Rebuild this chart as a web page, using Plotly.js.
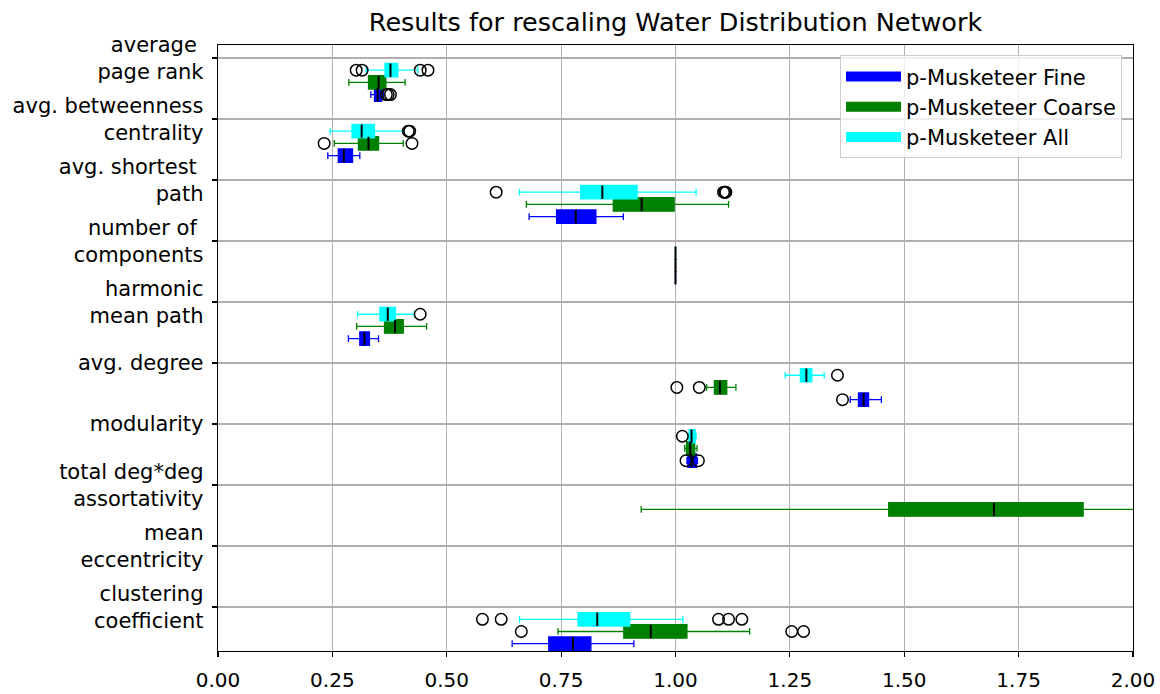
<!DOCTYPE html>
<html><head><meta charset="utf-8">
<script src="https://cdn.plot.ly/plotly-3.0.1.min.js"></script>
<style>html,body{margin:0;padding:0;background:#fff}#chart{width:1160px;height:694px}</style>
</head><body><div id="chart"></div>
<script>
// Category labels (top to bottom)
const categories = [
  "average\u00a0<br>page rank",
  "avg. betweenness<br>centrality",
  "avg. shortest\u00a0<br>path",
  "number of\u00a0<br>components",
  "harmonic<br>mean path",
  "avg. degree",
  "modularity",
  "total deg*deg<br>assortativity",
  "mean<br>eccentricity",
  "clustering<br>coefficient"
];
const xTicks = [0, 0.25, 0.5, 0.75, 1.0, 1.25, 1.5, 1.75, 2.0];

// p-Musketeer Fine (blue)
const fineLow    = [0.334, 0.240, 0.680, 1.0, 0.285, 1.382, 1.025, null, null, 0.643];
const fineQ1     = [0.342, 0.263, 0.740, 1.0, 0.310, 1.400, 1.027, null, null, 0.723];
const fineMedian = [0.349, 0.275, 0.782, 1.0, 0.320, 1.411, 1.035, null, null, 0.776];
const fineQ3     = [0.358, 0.294, 0.826, 1.0, 0.331, 1.422, 1.046, null, null, 0.815];
const fineHigh   = [0.362, 0.310, 0.886, 1.0, 0.351, 1.450, 1.048, null, null, 0.909];
const fineOut    = [[0.368, 0.372, 0.377], [], [], [], [], [1.365], [1.023, 1.050], [], [], []];

// p-Musketeer Coarse (green)
const coarseLow    = [0.286, 0.254, 0.674, 1.0, 0.303, 1.068, 1.020, 0.925, null, 0.743];
const coarseQ1     = [0.329, 0.307, 0.864, 1.0, 0.364, 1.085, 1.024, 1.466, null, 0.887];
const coarseMedian = [0.351, 0.329, 0.926, 1.0, 0.387, 1.097, 1.032, 1.696, null, 0.946];
const coarseQ3     = [0.367, 0.351, 0.997, 1.0, 0.405, 1.112, 1.042, 1.891, null, 1.025];
const coarseHigh   = [0.409, 0.405, 1.116, 1.0, 0.456, 1.132, 1.047, 2.25, null, 1.162];
const coarseOut    = [[], [0.232, 0.424], [], [], [], [1.003, 1.052], [], [], [], [0.663, 1.254, 1.280]];

// p-Musketeer All (cyan)
const allLow    = [0.324, 0.245, 0.659, 1.0, 0.305, 1.240, 1.027, null, null, 0.659];
const allQ1     = [0.365, 0.293, 0.793, 1.0, 0.354, 1.273, 1.030, null, null, 0.787];
const allMedian = [0.377, 0.314, 0.840, 1.0, 0.371, 1.286, 1.035, null, null, 0.829];
const allQ3     = [0.393, 0.342, 0.916, 1.0, 0.388, 1.298, 1.043, null, null, 0.900];
const allHigh   = [0.437, 0.407, 1.045, 1.0, 0.429, 1.325, 1.045, null, null, 1.016];
const allOut    = [[0.302, 0.315, 0.442, 0.459], [0.416, 0.419], [0.608, 1.105, 1.108, 1.110], [], [0.442], [1.354], [1.015], [], [], [0.578, 0.619, 1.094, 1.116, 1.145]];

const BOX_W = 0.22;

function buildSeries(name, color, offset, lo, q1, med, q3, hi, out) {
  const idx = categories.map((_, i) => i).filter(i => med[i] !== null);
  const box = {
    type: 'box', orientation: 'h', name: name,
    y: idx.map(i => i + offset),
    lowerfence: idx.map(i => lo[i]), q1: idx.map(i => q1[i]), median: idx.map(i => med[i]),
    q3: idx.map(i => q3[i]), upperfence: idx.map(i => hi[i]),
    width: BOX_W, whiskerwidth: 0.5, fillcolor: color,
    line: {color: color, width: 1.3}, boxpoints: false, hoverinfo: 'skip', legendgroup: name, showlegend: false
  };
  const mx = [], my = [];
  idx.forEach(i => { mx.push(med[i], med[i], null); my.push(i + offset - BOX_W / 2, i + offset + BOX_W / 2, null); });
  const medTrace = {type: 'scatter', mode: 'lines', x: mx, y: my, line: {color: '#000', width: 2},
    showlegend: false, hoverinfo: 'skip', legendgroup: name};
  const ox = [], oy = [];
  out.forEach((vals, i) => vals.forEach(v => { ox.push(v); oy.push(i + offset); }));
  const outTrace = {type: 'scatter', mode: 'markers', x: ox, y: oy,
    marker: {symbol: 'circle-open', size: 11.5, color: '#000', line: {width: 1.5, color: '#000'}},
    showlegend: false, hoverinfo: 'skip', legendgroup: name};
  const legendTrace = {type: 'scatter', mode: 'lines', x: [null], y: [null], name: name,
    line: {color: color, width: 13}, legendgroup: name, showlegend: true, hoverinfo: 'skip'};
  return [box, medTrace, outTrace, legendTrace];
}

const s1 = buildSeries('p-Musketeer Fine', '#0000ff', 0.6, fineLow, fineQ1, fineMedian, fineQ3, fineHigh, fineOut);
const s2 = buildSeries('p-Musketeer Coarse', '#008000', 0.4, coarseLow, coarseQ1, coarseMedian, coarseQ3, coarseHigh, coarseOut);
const s3 = buildSeries('p-Musketeer All', '#00ffff', 0.2, allLow, allQ1, allMedian, allQ3, allHigh, allOut);

const data = [s1[0], s2[0], s3[0], s1[1], s2[1], s3[1], s1[2], s2[2], s3[2], s1[3], s2[3], s3[3]];

const layout = {
  width: 1160, height: 694,
  margin: {l: 218, r: 27, t: 45, b: 43},
  paper_bgcolor: '#fff', plot_bgcolor: '#fff',
  font: {family: 'DejaVu Sans, sans-serif', color: '#000'},
  title: {text: 'Results for rescaling Water Distribution Network', font: {size: 25.5, color: '#000'},
    xref: 'paper', x: 0.5, xanchor: 'center', yref: 'container', y: 0.968, yanchor: 'middle'},
  boxmode: 'overlay',
  showlegend: true,
  legend: {x: 0.988, xanchor: 'right', y: 0.983, yanchor: 'top', font: {size: 21, color: '#000'},
    bgcolor: 'rgba(255,255,255,0.8)', bordercolor: '#cccccc', borderwidth: 1, traceorder: 'normal',
    itemwidth: 55},
  xaxis: {range: [0, 2], tickvals: xTicks, tickformat: '.2f', showgrid: true, gridcolor: '#b0b0b0', gridwidth: 1.2,
    zeroline: false, showline: true, linecolor: '#000', linewidth: 1.3, mirror: true,
    ticks: 'outside', ticklen: 5, tickcolor: '#000', tickwidth: 1.2, tickfont: {size: 20, color: '#000'},
    ticklabelstandoff: 6},
  yaxis: {range: [9.72, -0.213], tickvals: categories.map((_, i) => i), ticktext: categories,
    showgrid: true, gridcolor: '#b0b0b0', gridwidth: 1.2, zeroline: false, showline: true, linecolor: '#000',
    linewidth: 1.3, mirror: true, ticks: 'outside', ticklen: 5, tickcolor: '#000', tickwidth: 1.2,
    tickfont: {size: 21, color: '#000'}, ticklabelstandoff: 4}
};

Plotly.newPlot('chart', data, layout, {displayModeBar: false, staticPlot: true});
</script>
</body></html>
